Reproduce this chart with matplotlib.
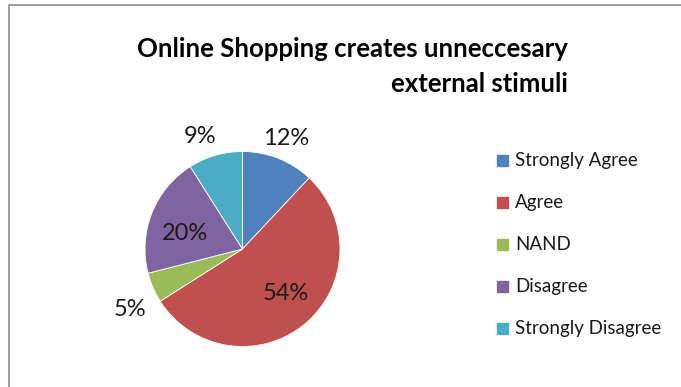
import numpy as np
import matplotlib
matplotlib.use('Agg')
import matplotlib.pyplot as plt
from matplotlib.patches import Rectangle

plt.rcParams['font.family'] = ['Lato', 'DejaVu Sans']

# survey answers
answers = ['Strongly Agree', 'Agree', 'NAND', 'Disagree', 'Strongly Disagree']
shares = [12, 54, 5, 20, 9]
colors = ['#4F81BD', '#C0504D', '#9BBB59', '#8064A2', '#4BACC6']
title_lines = ['Online Shopping creates unneccesary', 'external stimuli']

# percent label placement: radius (1 = rim) and turn from the slice middle, degrees
label_r = [1.22, 0.63, 1.31, 0.61, 1.23]
label_turn = [0, 4.6, 4.7, 6, 4.5]

W, H = 681, 387
fig = plt.figure(figsize=(W/100, H/100), dpi=100)

# chart frame
fig.patches.append(Rectangle((9/W, -0.1), 1.2, (387-5)/H + 0.1, transform=fig.transFigure,
                             fill=False, edgecolor='#8c8c8c', linewidth=1.2))

cx, cy, R = 242.5, 249, 97.5
ax = fig.add_axes([(cx-R)/W, (H-cy-R)/H, 2*R/W, 2*R/H])
wedges, _ = ax.pie(shares, colors=colors, startangle=90, counterclock=False,
                   radius=1, wedgeprops=dict(edgecolor='white', linewidth=0.6))
ax.set_xlim(-1, 1)
ax.set_ylim(-1, 1)
ax.set_aspect('equal')
ax.axis('off')

for w, s, r, t in zip(wedges, shares, label_r, label_turn):
    a = np.deg2rad((w.theta1 + w.theta2) / 2 + t)
    ax.text(r*np.cos(a), r*np.sin(a), f'{s}%', ha='center', va='center',
            fontsize=17, color='#1a1a1a', clip_on=False)

# title, right-aligned lines
for i, line in enumerate(title_lines):
    fig.text(568/W, 1 - (57 + 35*i)/H, line, ha='right', va='baseline',
             fontsize=18.5, fontweight='bold')

# legend
for i, (name, c) in enumerate(zip(answers, colors)):
    y = 160.5 + 42*i
    fig.patches.append(Rectangle((497/W, 1 - (y+5.5)/H), 11/W, 11/H,
                                 transform=fig.transFigure, color=c))
    fig.text(515/W, 1 - y/H, name, ha='left', va='center', fontsize=13.5, color='#1a1a1a')

fig.savefig('out.png', dpi=100)
